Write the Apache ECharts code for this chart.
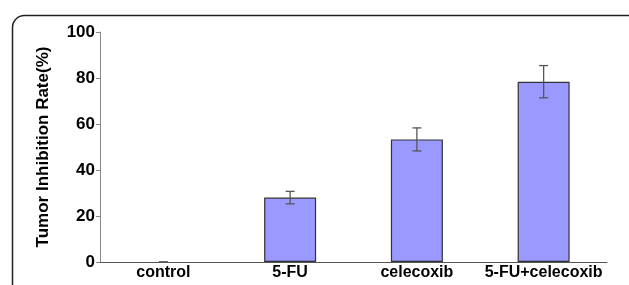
<!DOCTYPE html>
<html><head><meta charset="utf-8">
<script src="https://cdn.jsdelivr.net/npm/echarts@6/dist/echarts.min.js"></script>
<style>html,body{margin:0;padding:0;background:#fff}#c{width:629px;height:285px}</style>
</head><body><div id="c"></div>
<script>
const categories = ['control', '5-FU', 'celecoxib', '5-FU+celecoxib'];
const values = [0, 28, 53.3, 78.4];
const errors = [0, 2.7, 5, 7];
const yTicks = [0, 20, 40, 60, 80, 100];

const chart = echarts.init(document.getElementById('c'));
const errData = categories.map((c, i) => [i, values[i] - errors[i], values[i] + errors[i]]);
const barData = values.map(v => v === 0 ? { value: v, itemStyle: { borderWidth: 0 } } : v);
chart.setOption({
  animation: false,
  graphic: [{
    type: 'rect', left: 10, top: 13,
    shape: { width: 640, height: 300, r: 12 },
    style: { fill: 'none', stroke: '#222', lineWidth: 1.5 }, silent: true, z: -1
  }],
  grid: { left: 100, right: 22, top: 32, bottom: 23 },
  xAxis: {
    type: 'category', data: categories, boundaryGap: true,
    axisLine: { lineStyle: { color: '#555', width: 1 } },
    axisTick: { inside: true, length: 4, lineStyle: { color: '#555' } },
    axisLabel: { interval: 0, color: '#000', fontWeight: 'bold', fontSize: 16, fontFamily: 'Liberation Sans, Arial', margin: 3 }
  },
  yAxis: {
    type: 'value', min: 0, max: 100, interval: 20,
    name: 'Tumor Inhibition Rate(%)', nameLocation: 'middle', nameGap: 48,
    nameTextStyle: { color: '#000', fontWeight: 'bold', fontSize: 17, fontFamily: 'Liberation Sans, Arial' },
    axisLine: { show: true, lineStyle: { color: '#888', width: 1 } },
    axisTick: { show: true, length: 4, lineStyle: { color: '#888' } },
    splitLine: { show: false },
    axisLabel: { color: '#000', fontWeight: 'bold', fontSize: 17, fontFamily: 'Liberation Sans, Arial', margin: 5,
      formatter: v => yTicks.includes(v) ? String(v) : '' }
  },
  series: [{
    type: 'bar', data: barData, barWidth: 52,
    itemStyle: { color: '#9999ff', borderColor: '#333', borderWidth: 1.2 }
  }, {
    type: 'custom', data: errData, z: 5,
    renderItem: function (params, api) {
      const x = api.value(0);
      const lo = api.coord([x, api.value(1)]);
      const hi = api.coord([x, api.value(2)]);
      const w = 4.5;
      const st = { stroke: '#555', lineWidth: 1.3 };
      return { type: 'group', children: [
        { type: 'line', shape: { x1: lo[0], y1: lo[1], x2: hi[0], y2: hi[1] }, style: st },
        { type: 'line', shape: { x1: lo[0] - w, y1: lo[1], x2: lo[0] + w, y2: lo[1] }, style: st },
        { type: 'line', shape: { x1: hi[0] - w, y1: hi[1], x2: hi[0] + w, y2: hi[1] }, style: st }
      ]};
    }
  }]
});
</script></body></html>
